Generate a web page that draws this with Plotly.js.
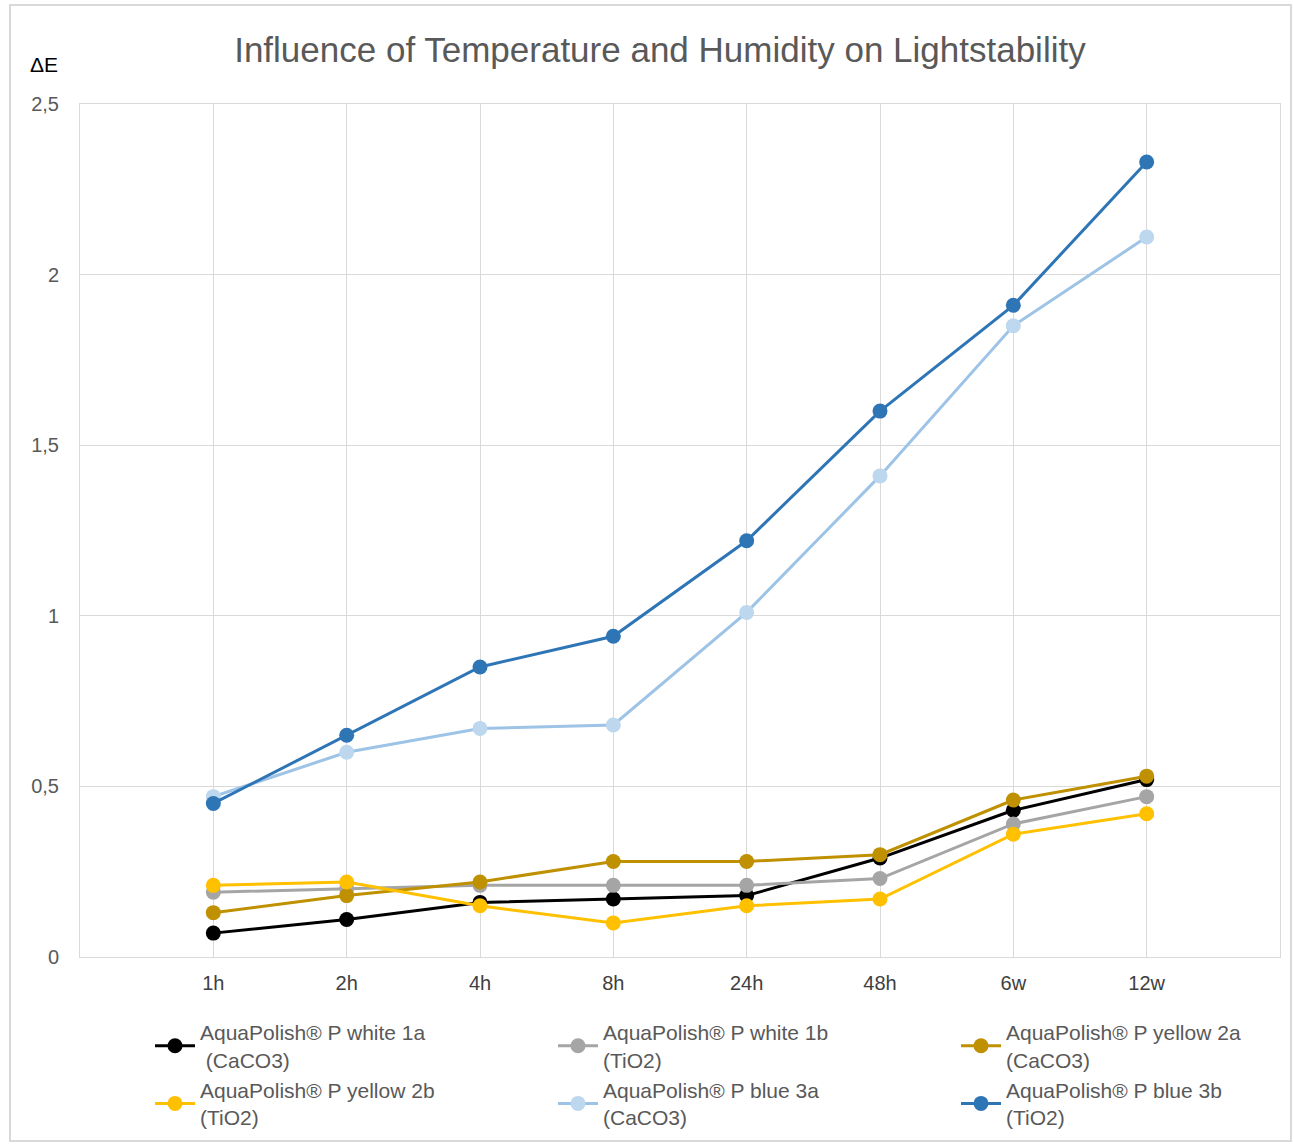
<!DOCTYPE html>
<html>
<head>
<meta charset="utf-8">
<script src="https://cdn.plot.ly/plotly-3.0.1.min.js"></script>
<style>html,body{margin:0;padding:0;background:#fff;}#chart{width:1294px;height:1144px;}</style>
</head>
<body>
<div id="chart"></div>
<script>
const categories = ["1h", "2h", "4h", "8h", "24h", "48h", "6w", "12w"];
const seriesNames = [
  "AquaPolish® P white 1a<br> (CaCO3)",
  "AquaPolish® P white 1b<br>(TiO2)",
  "AquaPolish® P yellow 2a<br>(CaCO3)",
  "AquaPolish® P yellow 2b<br>(TiO2)",
  "AquaPolish® P blue 3a<br>(CaCO3)",
  "AquaPolish® P blue 3b<br>(TiO2)"
];
const white1a = [0.07, 0.11, 0.16, 0.17, 0.18, 0.29, 0.43, 0.52];
const white1b = [0.19, 0.20, 0.21, 0.21, 0.21, 0.23, 0.39, 0.47];
const yellow2a = [0.13, 0.18, 0.22, 0.28, 0.28, 0.30, 0.46, 0.53];
const yellow2b = [0.21, 0.22, 0.15, 0.10, 0.15, 0.17, 0.36, 0.42];
const blue3a = [0.47, 0.60, 0.67, 0.68, 1.01, 1.41, 1.85, 2.11];
const blue3b = [0.45, 0.65, 0.85, 0.94, 1.22, 1.60, 1.91, 2.33];
const yTicks = [0, 0.5, 1, 1.5, 2, 2.5];

const allSeries = [white1a, white1b, yellow2a, yellow2b, blue3a, blue3b];
const lineColors = ["#000000", "#A5A5A5", "#BF9000", "#FFC000", "#9DC3E6", "#2E75B6"];
const markerColors = ["#000000", "#A5A5A5", "#BF9000", "#FFC000", "#BDD7EE", "#2E75B6"];
// legend column for each series (3 columns, 2 rows)
const legendIds = ["legend", "legend2", "legend3", "legend", "legend2", "legend3"];

const FONT = "Liberation Sans, Arial, sans-serif";

const traces = allSeries.map((vals, i) => ({
  type: "scatter",
  mode: "lines+markers",
  x: categories,
  y: vals,
  name: seriesNames[i],
  legend: legendIds[i],
  line: {color: lineColors[i], width: 3},
  marker: {color: markerColors[i], size: 15}
}));

function legendAt(textX) {
  return {
    orientation: "v",
    x: (textX - 50 - 80) / 1200, xanchor: "left",
    y: -0.0645, yanchor: "top",
    font: {family: FONT, size: 21, color: "#595959"},
    tracegroupgap: 0,
    itemwidth: 40,
    bgcolor: "rgba(0,0,0,0)"
  };
}

const layout = {
  width: 1294, height: 1144,
  margin: {l: 80, r: 14, t: 104, b: 187, autoexpand: false},
  paper_bgcolor: "#ffffff",
  plot_bgcolor: "#ffffff",
  separators: ",.",
  font: {family: FONT, color: "#595959"},
  title: {
    text: "Influence of Temperature and Humidity on Lightstability",
    font: {family: FONT, size: 35, color: "#595959"},
    xref: "container", x: 0.51, xanchor: "center",
    yref: "container", y: 1 - 50/1144, yanchor: "middle"
  },
  xaxis: {
    type: "category",
    range: [-1, 8],
    showgrid: true, gridcolor: "#D9D9D9", gridwidth: 1,
    showline: true, linecolor: "#D9D9D9", linewidth: 1, mirror: true,
    zeroline: false,
    ticks: "",
    tickfont: {family: FONT, size: 20, color: "#404040"},
    ticklabelstandoff: 8
  },
  yaxis: {
    range: [0, 2.5],
    tickvals: yTicks,
    showgrid: true, gridcolor: "#D9D9D9", gridwidth: 1,
    showline: true, linecolor: "#D9D9D9", linewidth: 1, mirror: true,
    zeroline: false,
    ticks: "",
    tickfont: {family: FONT, size: 20, color: "#595959"},
    ticklabelstandoff: 16
  },
  showlegend: true,
  legend: legendAt(200),
  legend2: legendAt(603),
  legend3: legendAt(1006),
  annotations: [{
    text: "ΔE",
    xref: "paper", yref: "paper",
    x: (44 - 80) / 1200, y: (957 - 65) / 853,
    xanchor: "center", yanchor: "middle",
    showarrow: false,
    font: {family: FONT, size: 21, color: "#000000"}
  }],
  shapes: [{
    type: "rect", xref: "paper", yref: "paper",
    x0: (10 - 80) / 1200, x1: (1291 - 80) / 1200,
    y0: (957 - 1141) / 853, y1: (957 - 5) / 853,
    line: {color: "#D9D9D9", width: 2},
    fillcolor: "rgba(0,0,0,0)", layer: "below"
  }]
};

Plotly.newPlot("chart", traces, layout, {displayModeBar: false, staticPlot: true});
</script>
</body>
</html>
